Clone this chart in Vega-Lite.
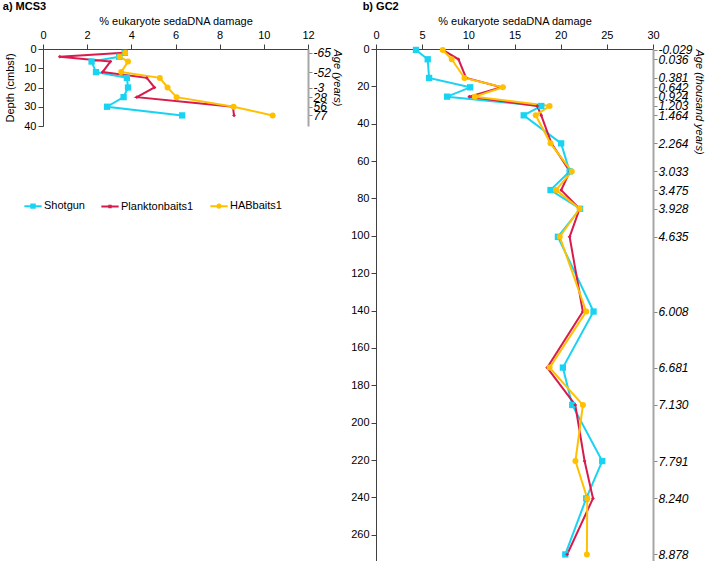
{
  "$schema": "https://vega.github.io/schema/vega-lite/v6.json",
  "padding": {"left": 2, "top": 1, "right": 0, "bottom": 0},
  "autosize": {"type": "pad"},
  "datasets": {
    "mcs3": [
      {"series": "Shotgun", "depth": 2, "damage": 3.7},
      {"series": "Shotgun", "depth": 4, "damage": 3.45},
      {"series": "Shotgun", "depth": 6.5, "damage": 2.2},
      {"series": "Shotgun", "depth": 12, "damage": 2.4},
      {"series": "Shotgun", "depth": 15, "damage": 3.8},
      {"series": "Shotgun", "depth": 20, "damage": 3.85},
      {"series": "Shotgun", "depth": 25, "damage": 3.65},
      {"series": "Shotgun", "depth": 30, "damage": 2.9},
      {"series": "Shotgun", "depth": 34.5, "damage": 6.3},
      {"series": "Planktonbaits1", "depth": 2, "damage": 3.65},
      {"series": "Planktonbaits1", "depth": 4, "damage": 0.76},
      {"series": "Planktonbaits1", "depth": 6.5, "damage": 3.05},
      {"series": "Planktonbaits1", "depth": 12, "damage": 2.7},
      {"series": "Planktonbaits1", "depth": 15, "damage": 4.7},
      {"series": "Planktonbaits1", "depth": 20, "damage": 5.05},
      {"series": "Planktonbaits1", "depth": 25, "damage": 4.25},
      {"series": "Planktonbaits1", "depth": 30, "damage": 8.6},
      {"series": "Planktonbaits1", "depth": 34.5, "damage": 8.65},
      {"series": "HABbaits1", "depth": 2, "damage": 3.72},
      {"series": "HABbaits1", "depth": 4, "damage": 3.47},
      {"series": "HABbaits1", "depth": 6.5, "damage": 3.85},
      {"series": "HABbaits1", "depth": 12, "damage": 3.54},
      {"series": "HABbaits1", "depth": 15, "damage": 5.29},
      {"series": "HABbaits1", "depth": 20, "damage": 5.64},
      {"series": "HABbaits1", "depth": 25, "damage": 6.05},
      {"series": "HABbaits1", "depth": 30, "damage": 8.63},
      {"series": "HABbaits1", "depth": 34.5, "damage": 10.4}
    ],
    "gc2": [
      {"series": "Shotgun", "depth": 0.5, "damage": 4.33},
      {"series": "Shotgun", "depth": 5.5, "damage": 5.6},
      {"series": "Shotgun", "depth": 15.5, "damage": 5.75},
      {"series": "Shotgun", "depth": 20.5, "damage": 10.2},
      {"series": "Shotgun", "depth": 25.5, "damage": 7.7},
      {"series": "Shotgun", "depth": 30.5, "damage": 17.9},
      {"series": "Shotgun", "depth": 35.5, "damage": 16.0},
      {"series": "Shotgun", "depth": 50.5, "damage": 20.05},
      {"series": "Shotgun", "depth": 65.5, "damage": 20.97},
      {"series": "Shotgun", "depth": 75.5, "damage": 18.9},
      {"series": "Shotgun", "depth": 85.5, "damage": 22.1},
      {"series": "Shotgun", "depth": 100.5, "damage": 19.7},
      {"series": "Shotgun", "depth": 140.5, "damage": 23.56},
      {"series": "Shotgun", "depth": 170.5, "damage": 20.24},
      {"series": "Shotgun", "depth": 190.5, "damage": 21.25},
      {"series": "Shotgun", "depth": 220.5, "damage": 24.5},
      {"series": "Shotgun", "depth": 240.5, "damage": 22.77},
      {"series": "Shotgun", "depth": 270.5, "damage": 20.5},
      {"series": "Planktonbaits1", "depth": 0.5, "damage": 7.23},
      {"series": "Planktonbaits1", "depth": 5.5, "damage": 8.93},
      {"series": "Planktonbaits1", "depth": 15.5, "damage": 9.76},
      {"series": "Planktonbaits1", "depth": 20.5, "damage": 13.6},
      {"series": "Planktonbaits1", "depth": 25.5, "damage": 10.1},
      {"series": "Planktonbaits1", "depth": 30.5, "damage": 17.46},
      {"series": "Planktonbaits1", "depth": 35.5, "damage": 17.9},
      {"series": "Planktonbaits1", "depth": 50.5, "damage": 19.0},
      {"series": "Planktonbaits1", "depth": 65.5, "damage": 21.0},
      {"series": "Planktonbaits1", "depth": 75.5, "damage": 20.06},
      {"series": "Planktonbaits1", "depth": 85.5, "damage": 22.05},
      {"series": "Planktonbaits1", "depth": 100.5, "damage": 20.97},
      {"series": "Planktonbaits1", "depth": 140.5, "damage": 22.4},
      {"series": "Planktonbaits1", "depth": 170.5, "damage": 18.54},
      {"series": "Planktonbaits1", "depth": 190.5, "damage": 21.58},
      {"series": "Planktonbaits1", "depth": 220.5, "damage": 22.59},
      {"series": "Planktonbaits1", "depth": 240.5, "damage": 23.5},
      {"series": "Planktonbaits1", "depth": 270.5, "damage": 20.7},
      {"series": "HABbaits1", "depth": 0.5, "damage": 7.23},
      {"series": "HABbaits1", "depth": 5.5, "damage": 8.2},
      {"series": "HABbaits1", "depth": 15.5, "damage": 9.58},
      {"series": "HABbaits1", "depth": 20.5, "damage": 13.74},
      {"series": "HABbaits1", "depth": 25.5, "damage": 10.7},
      {"series": "HABbaits1", "depth": 30.5, "damage": 18.8},
      {"series": "HABbaits1", "depth": 35.5, "damage": 17.3},
      {"series": "HABbaits1", "depth": 50.5, "damage": 18.9},
      {"series": "HABbaits1", "depth": 65.5, "damage": 21.2},
      {"series": "HABbaits1", "depth": 75.5, "damage": 19.5},
      {"series": "HABbaits1", "depth": 85.5, "damage": 22.05},
      {"series": "HABbaits1", "depth": 100.5, "damage": 19.9},
      {"series": "HABbaits1", "depth": 140.5, "damage": 22.77},
      {"series": "HABbaits1", "depth": 170.5, "damage": 18.8},
      {"series": "HABbaits1", "depth": 190.5, "damage": 22.41},
      {"series": "HABbaits1", "depth": 220.5, "damage": 21.6},
      {"series": "HABbaits1", "depth": 240.5, "damage": 22.88},
      {"series": "HABbaits1", "depth": 270.5, "damage": 22.84}
    ]
  },
  "spacing": 7,
  "hconcat": [
    {
      "data": {"name": "mcs3"},
      "width": 265,
      "height": 77,
      "title": {"text": "a) MCS3", "anchor": "start", "frame": "bounds", "fontSize": 11, "fontWeight": "bold", "offset": 3, "dx": -2},
      "layer": [
        {
          "mark": {"type": "line", "strokeWidth": 2},
          "encoding": {
            "x": {"field": "damage", "type": "quantitative", "scale": {"domain": [0, 12], "nice": false, "zero": false},
                  "axis": {"orient": "top", "values": [0, 2, 4, 6, 8, 10, 12], "title": "% eukaryote sedaDNA damage", "labelPadding": 4}},
            "y": {"field": "depth", "type": "quantitative", "scale": {"domain": [0, 40], "reverse": true, "nice": false, "zero": false},
                  "axis": {"values": [0, 10, 20, 30, 40], "title": "Depth (cmbsf)", "titlePadding": 8}},
            "color": {"field": "series", "type": "nominal",
                      "scale": {"domain": ["Shotgun", "Planktonbaits1", "HABbaits1"], "range": ["#19D3F3", "#D81B4C", "#FFC000"]},
                      "legend": {"orient": "none", "legendX": -20, "legendY": 147, "direction": "horizontal", "title": null,
                                 "labelFontSize": 11, "labelColor": "#000", "symbolSize": 300, "symbolStrokeWidth": 2, "columnPadding": 12, "labelOffset": 1,
                                 "encode": {"symbols": {"update": {
                                   "shape": {"signal": "datum.label === 'Shotgun' ? 'M-1,0H1M-0.2,-0.2H0.2V0.2H-0.2Z' : datum.label === 'HABbaits1' ? 'M-1,0H1M0.2,0A0.2,0.2,0,1,1,-0.2,0A0.2,0.2,0,1,1,0.2,0Z' : 'M-1,0H1M-0.08,-0.08H0.08V0.08H-0.08Z'"},
                                   "fill": {"scale": "color", "field": "value"}}}}}},
            "order": {"field": "depth", "type": "quantitative"}
          }
        },
        {
          "transform": [{"filter": "datum.series === 'Shotgun'"}],
          "mark": {"type": "point", "shape": "square", "filled": true, "opacity": 1, "size": 40, "color": "#19D3F3"},
          "encoding": {
            "x": {"field": "damage", "type": "quantitative"},
            "y": {"field": "depth", "type": "quantitative", "scale": {"domain": [0, 40], "reverse": true, "nice": false, "zero": false},
                  "axis": {"orient": "right", "values": [2, 12, 20, 25, 30, 34.5],
                           "labelExpr": "['-65','-52','-3','28','56','77'][indexof([2,12,20,25,30,34.5], datum.value)]",
                           "title": "Age (years)", "titleAngle": 90, "titleAnchor": "start", "titleFontStyle": "italic", "titlePadding": 1,
                           "labelFontStyle": "italic", "labelFontSize": 12, "labelPadding": 1, "tickSize": 4,
                           "domainColor": "#A6A6A6", "domainWidth": 2, "tickColor": "#888888"}}
          }
        },
        {
          "transform": [{"filter": "datum.series === 'Planktonbaits1'"}],
          "mark": {"type": "point", "shape": "diamond", "filled": true, "opacity": 1, "size": 14, "color": "#D81B4C"},
          "encoding": {
            "x": {"field": "damage", "type": "quantitative"},
            "y": {"field": "depth", "type": "quantitative", "scale": {"domain": [0, 40], "reverse": true, "nice": false, "zero": false}, "axis": null}
          }
        },
        {
          "transform": [{"filter": "datum.series === 'HABbaits1'"}],
          "mark": {"type": "point", "shape": "circle", "filled": true, "opacity": 1, "size": 36, "color": "#FFC000"},
          "encoding": {
            "x": {"field": "damage", "type": "quantitative"},
            "y": {"field": "depth", "type": "quantitative", "scale": {"domain": [0, 40], "reverse": true, "nice": false, "zero": false}, "axis": null}
          }
        }
      ],
      "resolve": {"scale": {"y": "independent"}, "axis": {"y": "independent"}}
    },
    {
      "data": {"name": "gc2"},
      "width": 277,
      "height": 512,
      "title": {"text": "b) GC2", "anchor": "start", "frame": "bounds", "fontSize": 11, "fontWeight": "bold", "offset": 3, "dx": 12},
      "layer": [
        {
          "mark": {"type": "line", "strokeWidth": 2},
          "encoding": {
            "x": {"field": "damage", "type": "quantitative", "scale": {"domain": [0, 30], "nice": false, "zero": false},
                  "axis": {"orient": "top", "values": [0, 5, 10, 15, 20, 25, 30], "title": "% eukaryote sedaDNA damage", "labelPadding": 4}},
            "y": {"field": "depth", "type": "quantitative", "scale": {"domain": [0, 274], "reverse": true, "nice": false, "zero": false},
                  "axis": {"values": [0, 20, 40, 60, 80, 100, 120, 140, 160, 180, 200, 220, 240, 260], "title": null}},
            "color": {"field": "series", "type": "nominal", "legend": null},
            "order": {"field": "depth", "type": "quantitative"}
          }
        },
        {
          "transform": [{"filter": "datum.series === 'Shotgun'"}],
          "mark": {"type": "point", "shape": "square", "filled": true, "opacity": 1, "size": 40, "color": "#19D3F3"},
          "encoding": {
            "x": {"field": "damage", "type": "quantitative"},
            "y": {"field": "depth", "type": "quantitative", "scale": {"domain": [0, 274], "reverse": true, "nice": false, "zero": false},
                  "axis": {"orient": "right", "values": [0.5, 5.5, 15.5, 20.5, 25.5, 30.5, 35.5, 50.5, 65.5, 75.5, 85.5, 100.5, 140.5, 170.5, 190.5, 220.5, 240.5, 270.5],
                           "labelExpr": "['-0.029','0.036','0.381','0.642','0.924','1.203','1.464','2.264','3.033','3.475','3.928','4.635','6.008','6.681','7.130','7.791','8.240','8.878'][indexof([0.5,5.5,15.5,20.5,25.5,30.5,35.5,50.5,65.5,75.5,85.5,100.5,140.5,170.5,190.5,220.5,240.5,270.5], datum.value)]",
                           "title": "Age (thousand years)", "titleAngle": 90, "titleAnchor": "start", "titleFontStyle": "italic", "titlePadding": 1,
                           "labelFontStyle": "italic", "labelFontSize": 12, "labelPadding": 1, "tickSize": 4,
                           "domainColor": "#A6A6A6", "domainWidth": 2, "tickColor": "#888888"}}
          }
        },
        {
          "transform": [{"filter": "datum.series === 'Planktonbaits1'"}],
          "mark": {"type": "point", "shape": "diamond", "filled": true, "opacity": 1, "size": 14, "color": "#D81B4C"},
          "encoding": {
            "x": {"field": "damage", "type": "quantitative"},
            "y": {"field": "depth", "type": "quantitative", "scale": {"domain": [0, 274], "reverse": true, "nice": false, "zero": false}, "axis": null}
          }
        },
        {
          "transform": [{"filter": "datum.series === 'HABbaits1'"}],
          "mark": {"type": "point", "shape": "circle", "filled": true, "opacity": 1, "size": 36, "color": "#FFC000"},
          "encoding": {
            "x": {"field": "damage", "type": "quantitative"},
            "y": {"field": "depth", "type": "quantitative", "scale": {"domain": [0, 274], "reverse": true, "nice": false, "zero": false}, "axis": null}
          }
        }
      ],
      "resolve": {"scale": {"y": "independent"}, "axis": {"y": "independent"}}
    }
  ],
  "config": {
    "font": "Liberation Sans",
    "view": {"stroke": null},
    "axis": {
      "grid": false, "labelFontSize": 11, "titleFontSize": 11, "titleFontWeight": "normal",
      "labelColor": "#000000", "titleColor": "#000000", "domainColor": "#404040", "tickColor": "#404040",
      "tickSize": 5, "labelPadding": 2, "titlePadding": 3, "labelFlush": false, "labelOverlap": false
    }
  }
}
